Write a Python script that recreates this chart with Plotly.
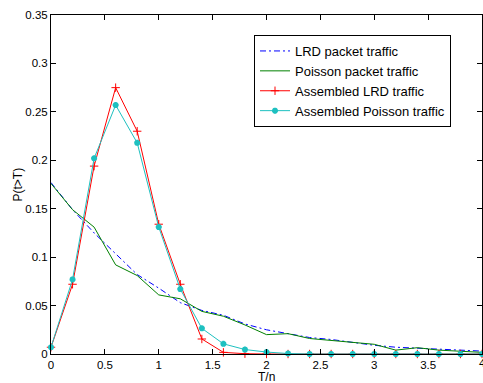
import plotly.graph_objects as go

# x positions (T/n)
x_asm = [0, 0.2, 0.4, 0.6, 0.8, 1.0, 1.2, 1.4, 1.6, 1.8, 2.0, 2.2, 2.4, 2.6, 2.8, 3.0, 3.2, 3.4, 3.6, 3.8, 4.0]
x_pkt = [0, 0.2, 0.4, 0.6, 0.8, 1.0, 1.2, 1.4, 1.6, 1.8, 2.0, 2.2, 2.4, 2.6, 2.8, 3.0, 3.2, 3.4, 3.6, 3.8, 4.0]

lrd_packet = [0.177, 0.149, 0.125, 0.104, 0.082, 0.068, 0.053, 0.045, 0.040, 0.031, 0.025, 0.021, 0.017, 0.015, 0.012, 0.009, 0.007, 0.006, 0.005, 0.004, 0.003]
poisson_packet = [0.176, 0.149, 0.131, 0.092, 0.081, 0.061, 0.057, 0.044, 0.039, 0.030, 0.020, 0.021, 0.016, 0.014, 0.0125, 0.010, 0.004, 0.0065, 0.004, 0.003, 0.0017]
asm_lrd = [0.007, 0.072, 0.194, 0.275, 0.230, 0.134, 0.072, 0.0155, 0.0017, 0.0003, 0, 0, 0, 0, 0, 0, 0, 0, 0, 0, 0]
asm_poisson = [0.007, 0.077, 0.202, 0.257, 0.218, 0.131, 0.067, 0.0265, 0.0105, 0.0046, 0.002, 0.0005, 0, 0, 0, 0, 0, 0, 0, 0, 0]

names = ["LRD packet traffic", "Poisson packet traffic", "Assembled LRD traffic", "Assembled Poisson traffic"]
x_ticks = [0, 0.5, 1, 1.5, 2, 2.5, 3, 3.5, 4]
x_ticktext = ["0", "0.5", "1", "1.5", "2", "2.5", "3", "3.5", "4"]
y_ticks = [0, 0.05, 0.1, 0.15, 0.2, 0.25, 0.3, 0.35]
y_ticktext = ["0", "0.05", "0.1", "0.15", "0.2", "0.25", "0.3", "0.35"]
x_title = "T/n"
y_title = "P(t>T)"
FONT = "Liberation Sans, Arial, Helvetica"

fig = go.Figure()
fig.add_trace(go.Scatter(x=x_pkt, y=lrd_packet, mode="lines", name=names[0],
                         line=dict(color="#0000FF", width=1, dash="6px,3px,2px,3px")))
fig.add_trace(go.Scatter(x=x_pkt, y=poisson_packet, mode="lines", name=names[1],
                         line=dict(color="#008000", width=1)))
fig.add_trace(go.Scatter(x=x_asm, y=asm_lrd, mode="lines+markers", name=names[2],
                         line=dict(color="#FF0000", width=1), cliponaxis=False,
                         marker=dict(symbol="cross-thin-open", size=6, line=dict(color="#FF0000", width=1))))
fig.add_trace(go.Scatter(x=x_asm, y=asm_poisson, mode="lines+markers", name=names[3],
                         line=dict(color="#1EC0C0", width=1), cliponaxis=False,
                         marker=dict(symbol="asterisk-open", size=5, line=dict(color="#1EC0C0", width=2))))

axis_common = dict(showline=True, linecolor="black", linewidth=1, mirror="ticks",
                   ticks="inside", ticklen=5, tickcolor="black", showgrid=False, zeroline=False,
                   tickfont=dict(family=FONT, size=11.5, color="black"))

fig.update_xaxes(range=[0, 4], tickvals=x_ticks, ticktext=x_ticktext, **axis_common)
fig.update_yaxes(range=[0, 0.35], tickvals=y_ticks, ticktext=y_ticktext, **axis_common)

# axis titles and the last (edge-clipped) x tick label
fig.add_annotation(text=x_title, xref="paper", yref="paper", x=0.5, y=-0.067,
                   xanchor="center", yanchor="middle", showarrow=False,
                   font=dict(family=FONT, size=12, color="black"))
fig.add_annotation(text=y_title, xref="paper", yref="paper", x=-0.0766, y=0.5,
                   xanchor="center", yanchor="middle", textangle=-90, showarrow=False,
                   font=dict(family=FONT, size=12, color="black"))
fig.add_annotation(text=x_ticktext[-1], xref="x", yref="paper", x=x_ticks[-1], y=0,
                   xanchor="center", yanchor="top", yshift=-1, showarrow=False,
                   font=dict(family=FONT, size=11.5, color="black"))

fig.update_layout(
    width=483, height=383,
    margin=dict(l=51, r=1, t=15, b=29),
    paper_bgcolor="white", plot_bgcolor="white",
    showlegend=True,
    legend=dict(x=0.471, y=0.941, xanchor="left", yanchor="top",
                bgcolor="white", bordercolor="black", borderwidth=1,
                font=dict(family=FONT, size=13, color="black"),
                tracegroupgap=0, itemwidth=30),
)

fig.write_html("out.html")
